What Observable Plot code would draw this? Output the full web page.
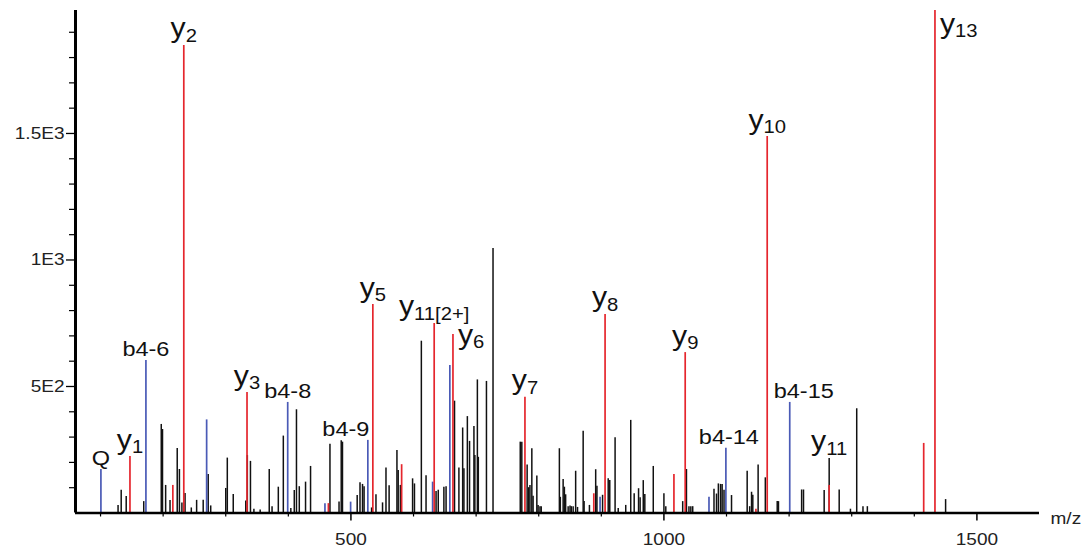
<!DOCTYPE html>
<html>
<head>
<meta charset="utf-8">
<script src="https://cdn.jsdelivr.net/npm/d3@7"></script>
<script src="https://cdn.jsdelivr.net/npm/@observablehq/plot@0.6"></script>
<style>
  body { margin: 0; background: #fff; }
  svg { display: block; }
</style>
</head>
<body>
<div id="chart"></div>
<script>
// MS/MS spectrum: centroided peaks (m/z, intensity)

// Unassigned fragment peaks
const otherMz = [128, 133, 141, 169, 197, 199, 204, 211, 222.5, 226, 230, 235, 245, 253.5, 264, 272, 276,
  300, 302.5, 312, 332, 334.5, 339.5, 345, 355, 369.5, 374, 384, 392, 404, 409.5, 413, 417.5, 427.5, 435.5,
  466.5, 481, 484.5, 486.5, 510, 514.5, 518.5, 521, 533, 540, 550.5, 556, 561, 573.5, 575.5, 579, 598.5,
  601.5, 612.5, 620, 636, 639.5, 648.5, 652, 665.5, 672.5, 678.5, 680.5, 686, 689.5, 696.5, 698, 702,
  703.5, 716.5, 727, 770.5, 773, 781.5, 784, 786, 789, 791, 797, 799, 802, 804, 833, 834.5, 839, 841, 843,
  847, 850, 852, 855, 859, 862, 871, 872.5, 881, 891, 893, 902, 911, 913.5, 922, 927, 939, 947, 952.5,
  959.5, 962, 967, 969.5, 983, 1000, 1003, 1030, 1036, 1040, 1043, 1046, 1080, 1084, 1087, 1090.5, 1093,
  1096, 1108, 1133, 1137, 1140, 1142, 1150.5, 1162, 1181, 1183, 1220, 1223, 1256, 1264, 1280, 1298, 1308,
  1318, 1325, 1450];
const otherIntensity = [30, 90, 65, 45, 350, 330, 109, 49, 255, 172, 40, 77, 20, 50, 50, 152, 28,
  97, 217, 73, 47, 227, 204, 15, 12, 172, 25, 102, 304, 18, 89, 408, 104, 122, 184,
  272, 43, 286, 280, 69, 120, 113, 104, 20, 72, 40, 178, 108, 247, 168, 109, 135,
  115, 679, 147, 85, 90, 102, 104, 442, 178, 336, 175, 381, 283, 342, 227, 526,
  220, 520, 1045, 280, 280, 190, 100, 109, 254, 66, 146, 30, 25, 25, 254, 62, 132, 102, 72,
  25, 28, 25, 25, 165, 22, 323, 45, 30, 171, 106, 70, 135, 128, 297, 18, 30, 366, 76,
  96, 60, 128, 73, 184, 76, 25, 45, 172, 25, 25, 25, 94, 75, 115, 113, 113,
  90, 69, 165, 25, 82, 70, 190, 139, 45, 45, 91, 91, 89, 215, 91, 15, 412,
  25, 25, 53];

// y-type fragment ions (red)
const yIonMz = [147, 215.5, 233, 334, 464, 535, 581, 633, 663, 778, 888, 906, 1016, 1034, 1147, 1165, 1264, 1415, 1433];
const yIonIntensity = [223, 109, 1848, 476, 37, 824, 191, 749, 705, 457, 76, 785, 152, 634, 15, 1488, 109, 275, 1986];
const yIonLabels = ["y1", "", "y2", "y3", "", "y5", "", "y11[2+]", "y6", "y7", "", "y8", "", "y9", "", "y10", "y11", "", "y13"];

// b-type fragment ions and the immonium ion (blue)
const bIonMz = [100.6, 172.5, 269.5, 399, 458.5, 499.5, 527, 630.5, 658, 898, 1072, 1099, 1201];
const bIonIntensity = [172, 603, 368, 437, 37, 43, 287, 122, 583, 62, 62, 256, 437];
const bIonLabels = ["Q", "b4-6", "", "b4-8", "", "", "b4-9", "", "", "", "", "b4-14", "b4-15"];

// Axis ticks
const xTicks = [500, 1000, 1500];
const xMinorTicks = [100, 200, 300, 400, 600, 700, 800, 900, 1100, 1200, 1300, 1400];
const yTicks = [500, 1000, 1500];
const yTickLabels = ["5E2", "1E3", "1.5E3"];
const yMinorTicks = [100, 200, 300, 400, 600, 700, 800, 900, 1100, 1200, 1300, 1400, 1600, 1700, 1800, 1900];

const others = otherMz.map((mz, i) => ({mz, intensity: otherIntensity[i]}));
const yIons = yIonMz.map((mz, i) => ({mz, intensity: yIonIntensity[i], label: yIonLabels[i]}));
const bIons = bIonMz.map((mz, i) => ({mz, intensity: bIonIntensity[i], label: bIonLabels[i]}));

const RED = "#e5262d";
const BLUE = "#4a5ab6";

// Per-label placement for peaks whose label would collide with neighbours
const placement = {
  "y6":  {dx: 5, dy: 9.5, textAnchor: "start"},
  "y13": {dx: 5, dy: 22, textAnchor: "start"},
  "y11": {dy: -35},   // sits above the taller co-eluting peak at the same m/z
  "b4-9": {dx: -22},
  "b4-15": {dx: 14},
  "b4-14": {dx: 3}
};

function labelMarks(data, isY) {
  return data.filter(d => d.label).map(d => {
    const p = placement[d.label] || {};
    return Plot.text([d], {
      x: "mz", y: "intensity", text: "label",
      lineAnchor: "bottom",
      textAnchor: p.textAnchor || "middle",
      dx: p.dx || 0,
      dy: p.dy != null ? p.dy : (isY ? -8 : -4),
      fontSize: isY ? 27 : 21,
      fill: "#111"
    });
  });
}

const chart = Plot.plot({
  width: 1087,
  height: 550,
  marginLeft: 75,
  marginRight: 48,
  marginTop: 10,
  marginBottom: 37.5,
  x: {domain: [60, 1600], label: null},
  y: {domain: [0, 1986], label: null},
  style: {fontFamily: "'Liberation Sans', Arial, sans-serif", background: "#fff", overflow: "visible"},
  marks: [
    Plot.ruleX(others, {x: "mz", y1: 0, y2: "intensity", stroke: "#111", strokeWidth: 1.5}),
    Plot.ruleX(bIons, {x: "mz", y1: 0, y2: "intensity", stroke: BLUE, strokeWidth: 1.7}),
    Plot.ruleX(yIons, {x: "mz", y1: 0, y2: "intensity", stroke: RED, strokeWidth: 1.7}),
    ...labelMarks(bIons, false),
    ...labelMarks(yIons, true),
    Plot.axisX({ticks: xMinorTicks, tickSize: 4, tickFormat: () => "", label: null, stroke: "#000", strokeWidth: 1.2}),
    Plot.axisX({ticks: xTicks, tickSize: 8, tickPadding: 12, fontSize: 17, label: null,
      stroke: "#000", strokeWidth: 1.5, fill: "#222", tickFormat: d => String(d)}),
    Plot.axisY({ticks: yMinorTicks, tickSize: 6, tickFormat: () => "", label: null, stroke: "#000", strokeWidth: 1.2}),
    Plot.axisY({ticks: yTicks, tickSize: 9, tickPadding: 2, fontSize: 17, label: null,
      stroke: "#000", strokeWidth: 1.3, fill: "#222",
      tickFormat: d => yTickLabels[yTicks.indexOf(d)]}),
    Plot.ruleY([0], {stroke: "#000", strokeWidth: 2.6}),
    Plot.ruleX([60], {stroke: "#000", strokeWidth: 3}),
    Plot.text(["m/z"], {frameAnchor: "bottom-right", text: d => d, textAnchor: "start",
      lineAnchor: "middle", dx: 11, dy: 6, fontSize: 17, fill: "#222"})
  ]
});

// Ion labels: the series letter at full size, the index and charge as a subscript.
// All text is drawn slightly wide, like the original instrument export.
const NS = "http://www.w3.org/2000/svg";
chart.querySelectorAll("text").forEach(t => {
  const m = /^y(.+)$/.exec(t.textContent);
  if (m && t.childElementCount === 0) {
    t.textContent = "";
    const main = document.createElementNS(NS, "tspan");
    main.textContent = "y";
    const sub = document.createElementNS(NS, "tspan");
    sub.setAttribute("font-size", "0.67em");
    sub.setAttribute("dy", "0.24em");
    sub.textContent = m[1];
    t.append(main, sub);
  }
  const tr = t.getAttribute("transform");
  if (tr) t.setAttribute("transform", tr + " scale(1.12,1)");
});

document.getElementById("chart").append(chart);
</script>
</body>
</html>
